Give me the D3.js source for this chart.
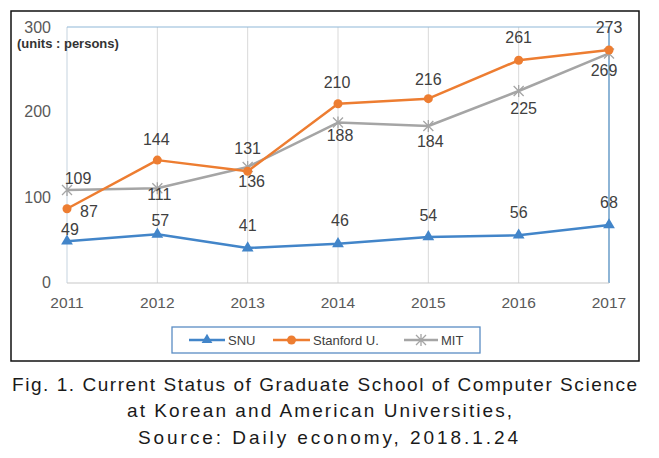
<!DOCTYPE html>
<html><head><meta charset="utf-8">
<script src="https://cdn.jsdelivr.net/npm/d3@7"></script>
<style>html,body{margin:0;padding:0;background:#fff;}svg{display:block;}</style>
</head><body>
<svg id="chart" width="659" height="458"></svg>
<script>
const years = ["2011","2012","2013","2014","2015","2016","2017"];
const snu = [49, 57, 41, 46, 54, 56, 68];
const stanford = [87, 144, 131, 210, 216, 261, 273];
const mit = [109, 111, 136, 188, 184, 225, 269];
const yTicks = [0, 100, 200, 300];
const seriesNames = ["SNU", "Stanford U.", "MIT"];
const unitLabel = "(units : persons)";
const caption = ["Fig. 1. Current Status of Graduate School of Computer Science",
                 "at Korean and American Universities,",
                 "Source: Daily economy, 2018.1.24"];

// label placement (layout only): [dx, dy] relative to point
const snuLabelOff = [[3,-6],[3,-8],[0,-17],[2,-18],[0,-16],[0,-17],[0,-17]];
const stanLabelOff = [[22,8],[-1,-15],[0,-17],[-1,-16],[0,-14],[0,-17],[0,-17]];
const mitLabelOff = [[11,-6],[2,12],[4,20],[2,18],[2,21],[5,23],[-5,23]];

const svg = d3.select("#chart");
const x = d3.scalePoint().domain(years).range([67, 609]);
const y = d3.scaleLinear().domain([0, 300]).range([283, 27]);

// outer frame
svg.append("rect").attr("x", 11).attr("y", 11).attr("width", 628).attr("height", 350)
  .attr("fill", "none").attr("stroke", "#111").attr("stroke-width", 1.5);

// vertical gridlines
svg.append("g").selectAll("line").data(years).join("line")
  .attr("x1", d => x(d)).attr("x2", d => x(d)).attr("y1", y(300)).attr("y2", y(0))
  .attr("stroke", (d,i) => i === 0 ? "#c5d3df" : "#d9d9d9").attr("stroke-width", 1);
// top and right border in blue
svg.append("line").attr("x1", x("2011")).attr("x2", x("2017")).attr("y1", y(300)).attr("y2", y(300))
  .attr("stroke", "#8fb8d8").attr("stroke-width", 1.2);
svg.append("line").attr("x1", x("2017")).attr("x2", x("2017")).attr("y1", y(300)).attr("y2", y(0))
  .attr("stroke", "#6fa3cf").attr("stroke-width", 1.5);

// x axis line
svg.append("line").attr("x1", x("2011")).attr("x2", x("2017")).attr("y1", y(0)).attr("y2", y(0))
  .attr("stroke", "#c8c8c8").attr("stroke-width", 1.2);

// y tick labels
svg.append("g").selectAll("text").data(yTicks).join("text")
  .attr("x", 51).attr("y", d => y(d) + (d === 300 ? 6 : 5))
  .attr("text-anchor", "end").attr("font-family", "Liberation Sans, Arial, sans-serif")
  .attr("font-size", 16).attr("fill", "#595959").text(d => d);

// x tick labels
svg.append("g").selectAll("text").data(years).join("text")
  .attr("x", d => x(d)).attr("y", 308).attr("text-anchor", "middle")
  .attr("font-family", "Liberation Sans, Arial, sans-serif").attr("font-size", 15.5)
  .attr("fill", "#595959").text(d => d);

// units label
svg.append("text").attr("x", 17).attr("y", 48).attr("font-family", "Liberation Sans, Arial, sans-serif")
  .attr("font-weight", "bold").attr("font-size", 13).attr("fill", "#333").text(unitLabel);

const line = d3.line().x((d,i) => x(years[i])).y(d => y(d));
const colors = ["#4285c9", "#ed7d31", "#a5a5a5"];
const allSeries = [snu, stanford, mit];

function marker(g, type, cx, cy, color, s) {
  if (type === 0) {
    g.append("path").attr("d", d3.symbol().type(d3.symbolTriangle).size(s || 60)())
      .attr("transform", `translate(${cx},${cy})`).attr("fill", color);
  } else if (type === 1) {
    g.append("circle").attr("cx", cx).attr("cy", cy).attr("r", 4.5).attr("fill", color);
  } else {
    const r = 5;
    g.append("path").attr("d", `M${cx-r},${cy-r}L${cx+r},${cy+r}M${cx-r},${cy+r}L${cx+r},${cy-r}M${cx},${cy-r-1}L${cx},${cy+r+1}`)
      .attr("stroke", color).attr("stroke-width", 1.3).attr("fill", "none");
  }
}

// draw MIT first, then Stanford, then SNU
[2, 1, 0].forEach(si => {
  const data = allSeries[si];
  const g = svg.append("g");
  g.append("path").datum(data).attr("d", line).attr("fill", "none")
    .attr("stroke", colors[si]).attr("stroke-width", 2.5).attr("stroke-linejoin", "round");
  data.forEach((v, i) => marker(g, si, x(years[i]), y(v), colors[si]));
});

// data labels
const offs = [snuLabelOff, stanLabelOff, mitLabelOff];
allSeries.forEach((data, si) => {
  svg.append("g").selectAll("text").data(data).join("text")
    .attr("x", (d,i) => x(years[i]) + offs[si][i][0])
    .attr("y", (d,i) => y(d) + offs[si][i][1])
    .attr("text-anchor", "middle").attr("font-family", "Liberation Sans, Arial, sans-serif")
    .attr("font-size", 16).attr("fill", "#404040").text(d => d);
});

// legend
const lg = svg.append("g");
lg.append("rect").attr("x", 172).attr("y", 327).attr("width", 308).attr("height", 26)
  .attr("fill", "#fff").attr("stroke", "#5a8dc4").attr("stroke-width", 1.3);
const legX = [189, 273, 404];
const legW = [36, 37, 34];
seriesNames.forEach((n, i) => {
  lg.append("line").attr("x1", legX[i]).attr("x2", legX[i] + legW[i]).attr("y1", 340).attr("y2", 340)
    .attr("stroke", colors[i]).attr("stroke-width", 2.5);
  marker(lg, i, legX[i] + legW[i] / 2, 340, colors[i], 50);
  lg.append("text").attr("x", legX[i] + legW[i] + 3).attr("y", 344.5)
    .attr("font-family", "Liberation Sans, Arial, sans-serif").attr("font-size", 13)
    .attr("fill", "#404040").text(n);
});

// caption
const capY = [391, 417, 444];
const capX = [[12, 637], [127, 512], [138, 518]];
caption.forEach((t, i) => {
  svg.append("text").attr("x", capX[i][0]).attr("y", capY[i])
    .attr("textLength", capX[i][1] - capX[i][0]).attr("lengthAdjust", "spacing")
    .attr("font-family", "Liberation Sans, Arial, sans-serif").attr("font-size", 19)
    .attr("fill", "#1a1a1a").text(t);
});
</script>
</body></html>
